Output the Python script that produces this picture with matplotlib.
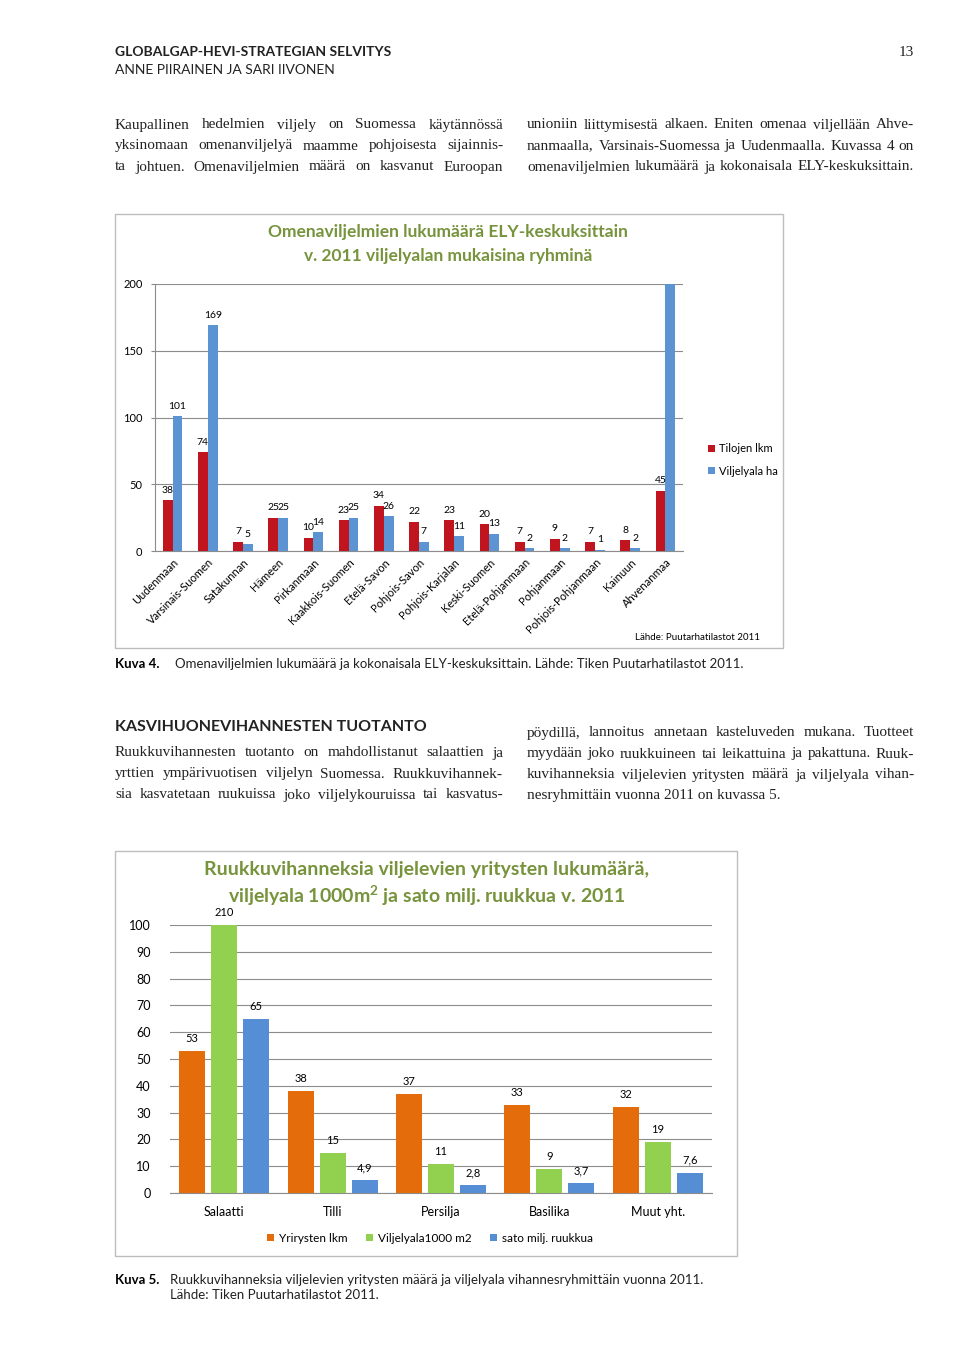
import matplotlib
matplotlib.use("Agg")
import matplotlib.pyplot as plt
from matplotlib.patches import Rectangle
import numpy as np

# ---- data: chart 1 (Kuva 4) ----
regions = ["Uudenmaan", "Varsinais-Suomen", "Satakunnan", "Hämeen", "Pirkanmaan",
           "Kaakkois-Suomen", "Etelä-Savon", "Pohjois-Savon", "Pohjois-Karjalan",
           "Keski-Suomen", "Etelä-Pohjanmaan", "Pohjanmaan", "Pohjois-Pohjanmaan",
           "Kainuun", "Ahvenanmaa"]
tilojen_lkm = [38, 74, 7, 25, 10, 23, 34, 22, 23, 20, 7, 9, 7, 8, 45]
viljelyala_ha = [101, 169, 5, 25, 14, 25, 26, 7, 11, 13, 2, 2, 1, 2, 240]  # last one runs off the scale

# ---- data: chart 2 (Kuva 5) ----
groups = ["Salaatti", "Tilli", "Persilja", "Basilika", "Muut yht."]
yritysten_lkm = [53, 38, 37, 33, 32]
viljelyala_1000m2 = [210, 15, 11, 9, 19]
sato_milj = [65, 4.9, 2.8, 3.7, 7.6]

plt.rcParams["mathtext.fontset"] = "custom"
plt.rcParams["mathtext.rm"] = "Lato"
plt.rcParams["mathtext.bf"] = "Lato:bold"

W, H = 960, 1358
fig = plt.figure(figsize=(W / 100, H / 100), dpi=100)
renderer = fig.canvas.get_renderer()

SANS = "Lato"
SERIF = "Liberation Serif"
GREEN = "#77933C"
GREY = "#8C8C8C"
INK = "#222222"


def px(x, y):
    return x / W, 1 - y / H


def axes_px(left, top, right, bottom):
    return fig.add_axes([left / W, 1 - bottom / H, (right - left) / W, (bottom - top) / H])


def justify(x0, x1, y, line, size=11, last=False):
    if last:
        fig.text(*px(x0, y), line, fontsize=size, family=SERIF, va="center", color=INK)
        return
    words = line.split()
    texts = [fig.text(0, 0, w, fontsize=size, family=SERIF, va="center", color=INK)
             for w in words]
    widths = [t.get_window_extent(renderer).width for t in texts]
    gap = (x1 - x0 - sum(widths)) / (len(words) - 1)
    x = x0
    for t, w in zip(texts, widths):
        t.set_position(px(x, y))
        x += w + gap


def box(left, top, right, bottom):
    fig.patches.append(Rectangle(px(left, bottom), (right - left) / W, (bottom - top) / H,
                                 transform=fig.transFigure, fill=False,
                                 edgecolor="#BDBDBD", lw=1))


# ---- page header ----
fig.text(*px(115, 52), "GLOBALGAP-HEVI-STRATEGIAN SELVITYS", fontsize=10, family=SANS,
         weight="bold", va="center", color=INK)
fig.text(*px(115, 70), "ANNE PIIRAINEN JA SARI IIVONEN", fontsize=10, family=SANS,
         va="center", color=INK)
fig.text(*px(914, 53), "13", fontsize=11, family=SERIF, va="center", ha="right", color=INK)

# ---- first paragraph ----
col1 = ["Kaupallinen hedelmien viljely on Suomessa käytännössä",
        "yksinomaan omenanviljelyä maamme pohjoisesta sijainnis-",
        "ta johtuen. Omenaviljelmien määrä on kasvanut Euroopan"]
col2 = ["unioniin liittymisestä alkaen. Eniten omenaa viljellään Ahve-",
        "nanmaalla, Varsinais-Suomessa ja Uudenmaalla. Kuvassa 4 on",
        "omenaviljelmien lukumäärä ja kokonaisala ELY-keskuksittain."]
for i, line in enumerate(col1):
    justify(115, 503, 125 + 21 * i, line)
for i, line in enumerate(col2):
    justify(527, 914, 125 + 21 * i, line)

# ---- chart 1 ----
box(115, 214, 783, 648)
fig.text(*px(448, 232), "Omenaviljelmien lukumäärä ELY-keskuksittain", fontsize=12.5,
         family=SANS, weight="bold", color=GREEN, ha="center", va="center")
fig.text(*px(448, 256), "v. 2011 viljelyalan mukaisina ryhminä", fontsize=12.5,
         family=SANS, weight="bold", color=GREEN, ha="center", va="center")

ax1 = axes_px(155, 284, 683, 551)
x = np.arange(len(regions))
bw = 0.28
b1 = ax1.bar(x - bw / 2, tilojen_lkm, bw, color="#C0141E", label="Tilojen lkm", zorder=3)
b2 = ax1.bar(x + bw / 2, viljelyala_ha, bw, color="#5B93D3", label="Viljelyala ha", zorder=3)
ax1.set_xlim(-0.5, len(regions) - 0.5)
ax1.set_ylim(0, 200)
ax1.set_yticks([0, 50, 100, 150, 200])
ax1.yaxis.grid(True, color=GREY, lw=0.8, zorder=0)
for s in ["top", "right"]:
    ax1.spines[s].set_visible(False)
for s in ["left", "bottom"]:
    ax1.spines[s].set_color(GREY)
ax1.tick_params(axis="y", length=3, color=GREY, labelsize=8, pad=6)
ax1.tick_params(axis="x", length=0, labelsize=8, pad=4)
ax1.set_xticks(x)
ax1.set_xticklabels(regions, rotation=45, ha="right", rotation_mode="anchor", family=SANS)
for lab in ax1.get_yticklabels():
    lab.set_family(SANS)
for bars, vals in [(b1, tilojen_lkm), (b2, viljelyala_ha)]:
    for r, v in zip(bars, vals):
        if v <= 200:
            ax1.annotate(str(v), (r.get_x() + r.get_width() / 2, v), xytext=(0, 4),
                         textcoords="offset points", ha="center", va="bottom",
                         fontsize=7.5, family=SANS)
ax1.legend(loc="center left", bbox_to_anchor=px(698, 460), bbox_transform=fig.transFigure,
           frameon=False, handlelength=0.6, handleheight=0.6,
           handletextpad=0.4, labelspacing=1.0, prop={"family": SANS, "size": 8})
fig.text(*px(760, 637), "Lähde: Puutarhatilastot 2011", fontsize=7, family=SANS,
         ha="right", va="center")

fig.text(*px(115, 664), "Kuva 4.", fontsize=9.5, family=SANS, weight="bold", va="center")
fig.text(*px(175, 664), "Omenaviljelmien lukumäärä ja kokonaisala ELY-keskuksittain. "
         "Lähde: Tiken Puutarhatilastot 2011.", fontsize=9.5, family=SANS, va="center",
         color=INK)

# ---- section 2 text ----
fig.text(*px(115, 727), "KASVIHUONEVIHANNESTEN TUOTANTO", fontsize=11.5, family=SANS,
         weight="bold", va="center", color=INK)
col1 = ["Ruukkuvihannesten tuotanto on mahdollistanut salaattien ja",
        "yrttien ympärivuotisen viljelyn Suomessa.  Ruukkuvihannek-",
        "sia kasvatetaan ruukuissa joko viljelykouruissa tai kasvatus-"]
col2 = ["pöydillä, lannoitus annetaan kasteluveden mukana. Tuotteet",
        "myydään joko ruukkuineen tai leikattuina ja pakattuna. Ruuk-",
        "kuvihanneksia viljelevien yritysten määrä ja viljelyala vihan-",
        "nesryhmittäin vuonna 2011 on kuvassa 5."]
for i, line in enumerate(col1):
    justify(115, 503, 753 + 21 * i, line)
for i, line in enumerate(col2):
    justify(527, 914, 733 + 21 * i, line, last=(i == len(col2) - 1))

# ---- chart 2 ----
box(115, 851, 737, 1256)
fig.text(*px(427, 870), "Ruukkuvihanneksia viljelevien yritysten lukumäärä,", fontsize=14,
         family=SANS, weight="bold", color=GREEN, ha="center", va="center")
fig.text(*px(427, 896), r"viljelyala 1000m$^{\mathbf{2}}$ ja sato milj. ruukkua v. 2011",
         fontsize=14, family=SANS, weight="bold", color=GREEN, ha="center", va="center")

ax2 = axes_px(170, 925, 712, 1193)
g = np.arange(len(groups))
bw2 = 0.24
step = 0.295
series = [(yritysten_lkm, "#E46C0A", "Yrirysten lkm"),
          (viljelyala_1000m2, "#92D050", "Viljelyala1000 m2"),
          (sato_milj, "#558ED5", "sato milj. ruukkua")]
for k, (vals, col, lab) in enumerate(series):
    bars = ax2.bar(g + (k - 1) * step, vals, bw2, color=col, label=lab, zorder=3)
    for r, v in zip(bars, vals):
        ax2.annotate(str(v).replace(".", ","), (r.get_x() + r.get_width() / 2, min(v, 100)),
                     xytext=(0, 5), textcoords="offset points", ha="center", va="bottom",
                     fontsize=8, family=SANS, annotation_clip=False)
ax2.set_xlim(-0.5, len(groups) - 0.5)
ax2.set_ylim(0, 100)
ax2.set_yticks(range(0, 101, 10))
ax2.yaxis.grid(True, color=GREY, lw=0.8, zorder=0)
for s in ["top", "right", "left"]:
    ax2.spines[s].set_visible(False)
ax2.spines["bottom"].set_color(GREY)
ax2.tick_params(axis="y", length=0, labelsize=9, pad=14)
ax2.tick_params(axis="x", length=0, labelsize=9, pad=9)
ax2.set_xticks(g)
ax2.set_xticklabels(groups, family=SANS)
for lab in ax2.get_yticklabels():
    lab.set_family(SANS)
ax2.legend(loc="center", bbox_to_anchor=px(430, 1238), bbox_transform=fig.transFigure,
           ncol=3, frameon=False, handlelength=0.6, handleheight=0.6, handletextpad=0.4,
           columnspacing=1.6, prop={"family": SANS, "size": 8.5})

fig.text(*px(115, 1280), "Kuva 5.", fontsize=9.5, family=SANS, weight="bold", va="center")
fig.text(*px(170, 1280), "Ruukkuvihanneksia viljelevien yritysten määrä ja viljelyala "
         "vihannesryhmittäin vuonna 2011.", fontsize=9.5, family=SANS, va="center",
         color=INK)
fig.text(*px(170, 1295), "Lähde: Tiken Puutarhatilastot 2011.", fontsize=9.5, family=SANS,
         va="center", color=INK)

fig.savefig("out.png", dpi=100)
